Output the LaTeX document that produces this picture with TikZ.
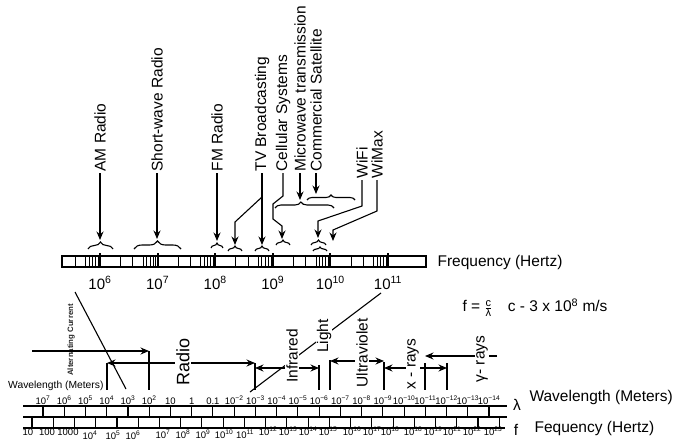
\documentclass[tikz,border=0pt]{standalone}
\usepackage{fontspec}
\setmainfont{Liberation Sans}
\usepackage{tikz}
\usetikzlibrary{arrows.meta}
\usetikzlibrary{decorations.pathreplacing}
\tikzstyle{band} = [rotate=90, anchor=west, inner sep=1pt, font=\fontsize{15.5}{16}\selectfont]
\tikzstyle{region} = [rotate=90, fill=white, inner sep=1pt, font=\fontsize{15.5}{16}\selectfont]
\tikzstyle{decade} = [anchor=base, inner sep=0pt, font=\fontsize{15}{15}\selectfont]
\tikzstyle{tickval} = [anchor=base, inner sep=0pt, font=\fontsize{9.5}{10}\selectfont]
\tikzstyle{axisname} = [anchor=west, inner sep=0pt, font=\fontsize{15.5}{16}\selectfont]
\tikzstyle{pointer} = [-{Stealth[length=8.5pt,width=7pt]}]
\tikzstyle{span} = [{Stealth[length=8.5pt,width=7pt]}-{Stealth[length=8.5pt,width=7pt]}]
\tikzset{cbrace/.style={decorate, decoration={brace, amplitude=#1}}, cbrace/.default=5pt}
\newcommand{\pw}[1]{10\textsuperscript{#1}}

\begin{document}
\begin{tikzpicture}[x=1pt, y=-1pt, line width=1.1pt]
\useasboundingbox (0,0) rectangle (675,447);

% Frequency bar, decades 10^6 ... 10^11
\draw (62,256) rectangle (426,267);
\foreach \n in {6,...,11} {
  \pgfmathsetmacro{\dx}{100+57.6*(\n-6)}
  \foreach \f in {.36,.57,.75,.81,.87,.92,.97} {
    \pgfmathsetmacro{\tx}{\dx-57.6*(1-\f)}
    \ifdim\tx pt>64pt \draw[line width=0.9pt] (\tx,256) -- ++(0,11); \fi
  }
  \draw[line width=1.9pt] (\dx,253) -- (\dx,267);
  \node[decade] (f\n) at ({100+57.6*(\n-6)},289) {\pw{\n}};
}
\node[axisname] (fhz) at (437,262) {Frequency (Hertz)};

% Services above the bar
\node[band] (am) at (100,173) {AM Radio};
\node[band] (sw) at (157,173) {Short-wave Radio};
\node[band] (fm) at (217,173) {FM Radio};
\node[band] (tv) at (262,173) {TV Broadcasting};
\node[band] (cel) at (283,173) {Cellular Systems};
\node[band] (mw) at (300,173) {Microwave transmission};
\node[band] (sat) at (316,173) {Commercial Satellite};
\node[band] (wifi) at (362,180) {WiFi};
\node[band] (wimax) at (377,180) {WiMax};
% brace tips
\coordinate (am-b) at (100,240);
\coordinate (sw-b) at (157,239);
\coordinate (fm-b) at (217,241);
\coordinate (tv-b1) at (235,245);
\coordinate (tv-b2) at (262,245);
\coordinate (cel-b) at (282,239);
\coordinate (mw-b) at (300,200);
\coordinate (sat-b) at (316,194);
\coordinate (wifi-b) at (318,238);
\coordinate (wimax-b) at (333,241);
% pointers
\draw[pointer] (am.west) -- (am-b);
\draw[pointer] (sw.west) -- (sw-b);
\draw[pointer] (fm.west) -- (fm-b);
\draw (tv.west) -- ++(0,24) coordinate (tv-f);
\draw[pointer] (tv-f) -- ++(-27,25) -- (tv-b1);
\draw[pointer] (tv-f) -- (tv-b2);
\draw[pointer] (cel.west) -- ++(0,23) -- ++(-10,8) -- ++(0,15) -- ++(9,7) -- (cel-b);
\draw[pointer] (mw.west) -- (mw-b);
\draw[pointer] (sat.west) -- (sat-b);
\draw[pointer] (wifi.west) -- ++(0,26) -- ++(-44,15) -- (wifi-b);
\draw[pointer] (wimax.west) -- ++(0,31) -- ++(-44,19) -- (wimax-b);
% braces
\draw[cbrace=7pt] (88,249) -- (113,249);
\draw[cbrace=8pt] (134,249) -- (181,249);
\draw[cbrace] (211,248) -- (223,248);
\draw[cbrace] (228,251) -- (242,251);
\draw[cbrace] (255,251) -- (269,251);
\draw[cbrace] (276,245) -- (290,245);
\draw[cbrace=6pt, decoration={aspect=0.44}] (275,208) -- (334,208);
\draw[cbrace] (307,200) -- (355,200);
\draw[cbrace] (311,245) -- (326,245);
\draw[cbrace=4pt] (313,251) -- (327,251);

% Formula
\node[anchor=west, inner sep=0pt, font=\fontsize{15.5}{16}\selectfont] (law) at (462,308)
  {f = $\frac{\mbox{\fontsize{11}{11}\selectfont c}}{\mbox{\fontsize{11}{11}\selectfont λ}}$\quad c - 3 x \pw{8} m/s};

% Links between the scales
\coordinate (ac1) at (75,292);
\coordinate (ac2) at (126,389);
\draw (ac1) -- (ac2);
\coordinate (vis1) at (381,293);
\coordinate (vis2) at (250,392);
\draw (vis1) -- (vis2);
\node[rotate=90, inner sep=0pt, text=black!85, font=\fontsize{7.8}{8}\bfseries\selectfont] (ac) at (71,340) {Alternating Current};

% Band limits
\foreach \x/\y [count=\i] in {149/351, 107/363, 255/363, 319/365, 330/360, 384/362, 425/363, 447/363} {
  \coordinate (v\i) at (\x,\y);
  \draw (v\i) -- (\x,390);
}
\coordinate (ar0) at (32,351);
\coordinate (ir1) at (255,368);
\coordinate (ir2) at (319,368);
\coordinate (uv1) at (330,361);
\coordinate (uv2) at (384,361);
\coordinate (xr1) at (384,368);
\coordinate (xr2) at (447,368);
\coordinate (gr1) at (497,356);
\coordinate (gr2) at (425,356);
\draw[pointer] (ar0) -- (v1);
\draw[span] (v2) -- (v3);
\draw[span] (ir1) -- (ir2);
\draw[span] (uv1) -- (uv2);
\draw[span] (xr1) -- (xr2);
\draw[pointer] (gr1) -- (gr2);
\node[region, font=\fontsize{18}{18}\selectfont] (radio) at (183,362) {Radio};
\node[region] (ired) at (292,356) {Infrared};
\node[region] (light) at (324,336) {Light};
\node[region] (uviol) at (362,353) {Ultraviolet};
\node[region] (xray) at (413,364) {x - rays};
\node[region] (gray) at (482,359) {γ- rays};
\node[anchor=east, inner sep=0pt, font=\fontsize{10.3}{11}\selectfont] (wl0) at (104,386) {Wavelength (Meters)};

% Wavelength / frequency scale
\draw (23,406) -- (507,406);
\draw (23,417) -- (507,417);
\draw (23,428) -- (505,428);
\foreach \k in {0,...,21} \draw (43+21.24*\k,406) -- ++(0,11);
\foreach \k in {0,...,22} \draw (32+21.24*\k,417) -- ++(0,11);
\foreach \t [count=\k from 0] in {\pw{7},\pw{6},\pw{5},\pw{4},\pw{3},\pw{2},10,1,0.1,
  \pw{−2},\pw{−3},\pw{−4},\pw{−5},\pw{−6},\pw{−7},\pw{−8},\pw{−9},\pw{−10},\pw{−11},\pw{−12},\pw{−13},\pw{−14}}
  \node[tickval] (w\k) at (43+21.24*\k,404) {\t};
\foreach \t/\x/\y [count=\k] in {10/28/435, 100/47/435, 1000/68/435, \pw{4}/90/439, \pw{5}/113/439,
  \pw{6}/133/439, \pw{7}/163/438, \pw{8}/183/438, \pw{9}/203/438, \pw{10}/224/438, \pw{11}/245/438,
  \pw{12}/268/435, \pw{13}/288/435, \pw{14}/308/435, \pw{15}/328/435, \pw{16}/352/435, \pw{17}/372/435,
  \pw{18}/390/435, \pw{18}/413/435, \pw{19}/433/435, \pw{21}/452/435, \pw{22}/472/435, \pw{23}/493/435}
  \node[tickval] (q\k) at (\x,\y) {\t};
\node[inner sep=0pt, font=\fontsize{15.5}{16}\selectfont] (lam) at (517,405) {λ};
\node[axisname] (wlm) at (529,397) {Wavelength (Meters)};
\node[inner sep=0pt, font=\fontsize{15.5}{16}\selectfont] (fsym) at (516,430) {f};
\node[axisname] (fqh) at (534,428) {Fequency (Hertz)};
\end{tikzpicture}
\end{document}
